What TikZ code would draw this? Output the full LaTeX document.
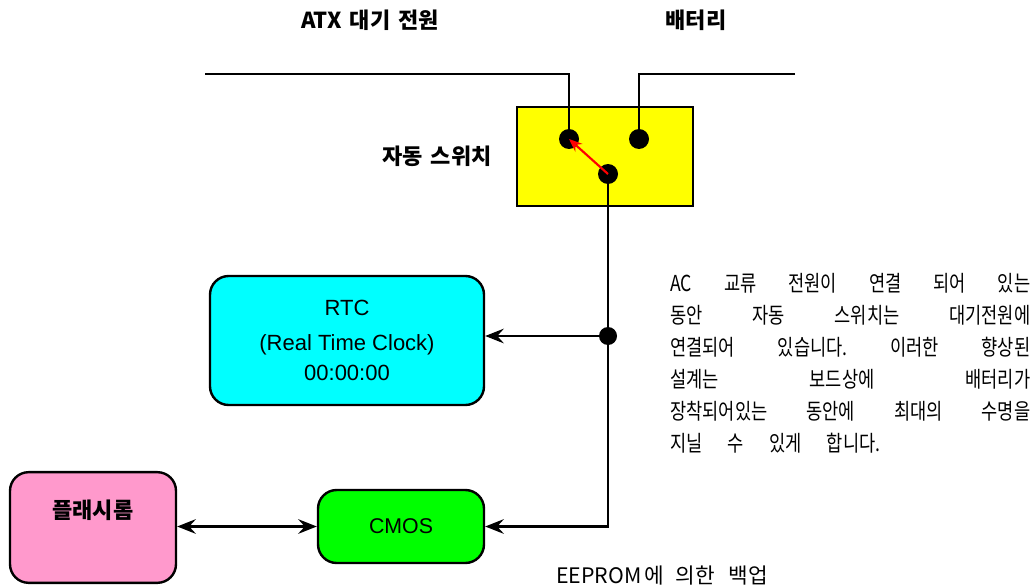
\documentclass[tikz,border=0pt]{standalone}
\usepackage{graphicx}
\usepackage{fontspec}
\setmainfont{Liberation Sans}
\newfontfamily\kr{Noto Sans CJK KR}
\usetikzlibrary{arrows.meta,positioning}
\definecolor{swyellow}{RGB}{255,255,0}
\definecolor{rtccyan}{RGB}{0,255,255}
\definecolor{cmosgreen}{RGB}{0,255,0}
\definecolor{flashpink}{RGB}{255,153,204}
% one condensed line of the note
\newcommand{\noteline}[2][337.5pt]{\scalebox{0.8}[1]{\makebox[#1]{#2}}}

\begin{document}
\begin{tikzpicture}[x=0.75pt, y=-0.75pt,
  >={Stealth[length=14pt, width=11pt, inset=5pt]},
  wire/.style={line width=1.8pt},
  box/.style={draw, line width=1.8pt, rounded corners=14pt, align=center, inner sep=0pt},
  dot/.style={circle, fill=black, inner sep=0pt, minimum size=15pt},
  lbl/.style={font=\kr\bfseries\fontsize{16.5}{20}\selectfont}]

\useasboundingbox (0,0) rectangle (1036,585);

% Automatic switch
\node[draw, line width=1.8pt, fill=swyellow, minimum width=132pt, minimum height=74pt] (switch) at (605,156.5) {};
\node[dot] (swA) at (569,139) {};
\node[dot] (swB) at (639,139) {};
\node[dot] (swC) at (608,174) {};
\draw[red, line width=1.6pt, -{Stealth[length=10pt, width=8pt, inset=3.5pt]}] (swC.center) -- (swA.center);

% Power lines
\coordinate (atxend) at (205,74);
\coordinate (batend) at (795,74);
\draw[wire] (atxend) -| (swA);
\draw[wire] (batend) -| (swB);

\node[lbl] (atx) at (370,20) {ATX\hspace{6pt}대기\hspace{6pt}전원};
\node[lbl] (bat) at (696,20) {배터리};
\node[lbl] (swlbl) at (437,156) {자동\hspace{6pt}스위치};

% Blocks
\node[box, fill=rtccyan, minimum width=205.5pt, minimum height=96.75pt,
  font=\fontsize{16.5}{22.5}\selectfont] (rtc) at (347,340.5) {RTC\\[3.5pt](Real Time Clock)\\00:00:00};
\node[box, fill=cmosgreen, minimum width=124.5pt, minimum height=54.75pt,
  font=\fontsize{16}{19}\selectfont] (cmos) at (401,526.5) {CMOS};
\node[box, fill=flashpink, minimum width=124.5pt, minimum height=83pt] (flash) at (93,527.5) {};
\node[lbl] (flashlbl) at (93,510) {플래시롬};

% Distribution
\node[dot, minimum size=13.5pt] (junc) at (608,336) {};
\draw[wire] (swC) -- (junc);
\draw[wire, ->] (junc) -- (junc -| rtc.east);
\draw[wire, ->] (junc) |- (cmos.east);
\draw[wire, <->] (flash.east |- cmos.west) -- (cmos.west);

% Notes
\node[anchor=north west, inner sep=0pt, align=left, text width=270pt,
  font=\kr\fontsize{16.5}{24}\selectfont] (note) at (670,273) {%
  \noteline{AC\hfill 교류\hfill 전원이\hfill 연결\hfill 되어\hfill 있는}\\
  \noteline{동안\hfill 자동\hfill 스위치는\hfill 대기전원에}\\
  \noteline{연결되어\hfill 있습니다.\hfill 이러한\hfill 향상된}\\
  \noteline{설계는\hfill 보드상에\hfill 배터리가}\\
  \noteline{장착되어있는\hfill 동안에\hfill 최대의\hfill 수명을}\\
  \noteline[197pt]{지닐\hfill 수\hfill 있게\hfill 합니다.}};
\node[anchor=west, inner sep=0pt, font=\kr\fontsize{16}{18}\selectfont] (eeprom) at (556,576)
  {EEPROM\hspace{2pt}에\hspace{9pt}의한\hspace{10pt}백업};

\end{tikzpicture}
\end{document}
